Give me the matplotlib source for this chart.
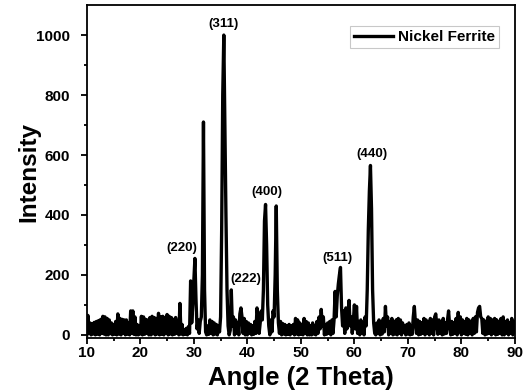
import numpy as np
import matplotlib
matplotlib.use('Agg')
import matplotlib.pyplot as plt

plt.rcParams['font.family'] = 'Liberation Sans'
plt.rcParams['font.weight'] = 'bold'
plt.rcParams['path.simplify'] = False

# 2-theta grid, 0.2 deg step from 10 to 90
angle = np.linspace(10, 90, 401)

# intensity, 10 values per 2 degrees
intensity = [
    0, 65, 5, 40, 0, 38, 3, 42, 0, 45,
    2, 48, 0, 52, 5, 62, 3, 60, 0, 55,
    0, 50, 4, 40, 0, 35, 2, 45, 0, 70,
    3, 55, 0, 52, 5, 50, 0, 50, 2, 40,
    0, 80, 5, 80, 2, 60, 0, 35, 0, 30,
    3, 62, 0, 60, 2, 52, 5, 50, 0, 58,
    0, 62, 4, 58, 0, 55, 3, 72, 0, 60,
    2, 62, 0, 58, 5, 68, 0, 62, 3, 58,
    0, 52, 2, 58, 5, 45, 0, 105, 3, 35,
    0, 18, 2, 22, 0, 28, 5, 180, 40, 100,
    180, 255, 120, 20, 50, 5, 45, 60, 200, 710,
    150, 10, 0, 30, 2, 50, 5, 45, 0, 40,
    3, 35, 0, 30, 10, 60, 350, 800, 1000, 700,
    400, 150, 30, 0, 15, 150, 30, 60, 0, 50,
    5, 40, 0, 70, 90, 60, 5, 55, 0, 45,
    0, 40, 5, 35, 0, 30, 2, 45, 5, 90,
    60, 5, 40, 80, 50, 150, 380, 435, 300, 100,
    30, 0, 50, 10, 80, 60, 200, 430, 150, 40,
    5, 45, 0, 38, 3, 35, 0, 30, 2, 35,
    0, 30, 5, 35, 0, 55, 3, 50, 0, 40,
    2, 35, 0, 55, 5, 45, 0, 40, 0, 30,
    0, 40, 3, 30, 0, 45, 5, 60, 20, 85,
    30, 60, 0, 35, 2, 40, 5, 45, 0, 50,
    5, 50, 145, 60, 130, 170, 200, 225, 90, 30,
    80, 5, 90, 20, 70, 115, 30, 60, 5, 45,
    100, 20, 95, 5, 45, 0, 50, 5, 40, 0,
    60, 30, 150, 350, 480, 565, 420, 150, 40, 5,
    0, 40, 5, 50, 0, 45, 3, 55, 10, 95,
    30, 60, 0, 45, 5, 55, 0, 40, 3, 50,
    0, 55, 5, 50, 0, 40, 8, 30, 0, 35,
    3, 40, 0, 30, 2, 60, 95, 40, 5, 50,
    0, 45, 2, 40, 5, 55, 0, 50, 5, 45,
    0, 55, 5, 50, 0, 60, 70, 30, 2, 50,
    5, 45, 0, 55, 3, 40, 5, 50, 80, 30,
    0, 45, 2, 40, 5, 55, 0, 75, 10, 60,
    0, 50, 5, 45, 2, 55, 0, 50, 5, 45,
    0, 55, 5, 60, 10, 75, 90, 95, 60, 55,
    5, 50, 0, 45, 3, 60, 5, 55, 0, 50,
    5, 55, 0, 50, 2, 45, 5, 55, 0, 60,
    0, 45, 5, 50, 0, 40, 5, 55, 0, 45,
    20,
]

# Miller index labels and where they sit
hkl = ['(220)', '(311)', '(222)', '(400)', '(511)', '(440)']
hkl_x = [27.7, 35.6, 39.7, 43.6, 56.9, 63.2]
hkl_y = [290, 1037, 187, 475, 258, 605]

fig = plt.figure(figsize=(5.26, 3.92), dpi=100)
ax = fig.add_axes([0.165, 0.138, 0.814, 0.849])

ax.plot(angle, intensity, color='black', lw=2.4, label='Nickel Ferrite')

for lab, x, y in zip(hkl, hkl_x, hkl_y):
    ax.text(x, y, lab, ha='center', va='center', fontsize=9.5, fontweight='bold')

ax.set_xlim(10, 90)
ax.set_ylim(-10, 1100)
ax.set_xticks(range(10, 91, 10))
ax.set_xticks(range(15, 90, 10), minor=True)
ax.set_yticks(range(0, 1001, 200))
ax.set_yticks(range(100, 1100, 200), minor=True)
ax.tick_params(which='both', direction='out', width=1.3, labelsize=11)
ax.tick_params(axis='x', pad=2)
ax.tick_params(axis='y', pad=8)
ax.tick_params(which='major', length=4)
ax.tick_params(which='minor', length=2.5)
for s in ax.spines.values():
    s.set_linewidth(1.3)

ax.set_xlabel('Angle (2 Theta)', fontsize=18.5, fontweight='bold', labelpad=4)
ax.set_ylabel('Intensity', fontsize=17.5, fontweight='bold', labelpad=-3)

leg = ax.legend(loc='upper right', fontsize=11, handlelength=2.6, fancybox=False,
                edgecolor='#bbbbbb', borderpad=0.25, handletextpad=0.3,
                bbox_to_anchor=(0.962, 0.936), borderaxespad=0)
leg.get_frame().set_linewidth(0.8)
for t in leg.get_texts():
    t.set_fontweight('bold')

fig.savefig('out.png', dpi=100)
